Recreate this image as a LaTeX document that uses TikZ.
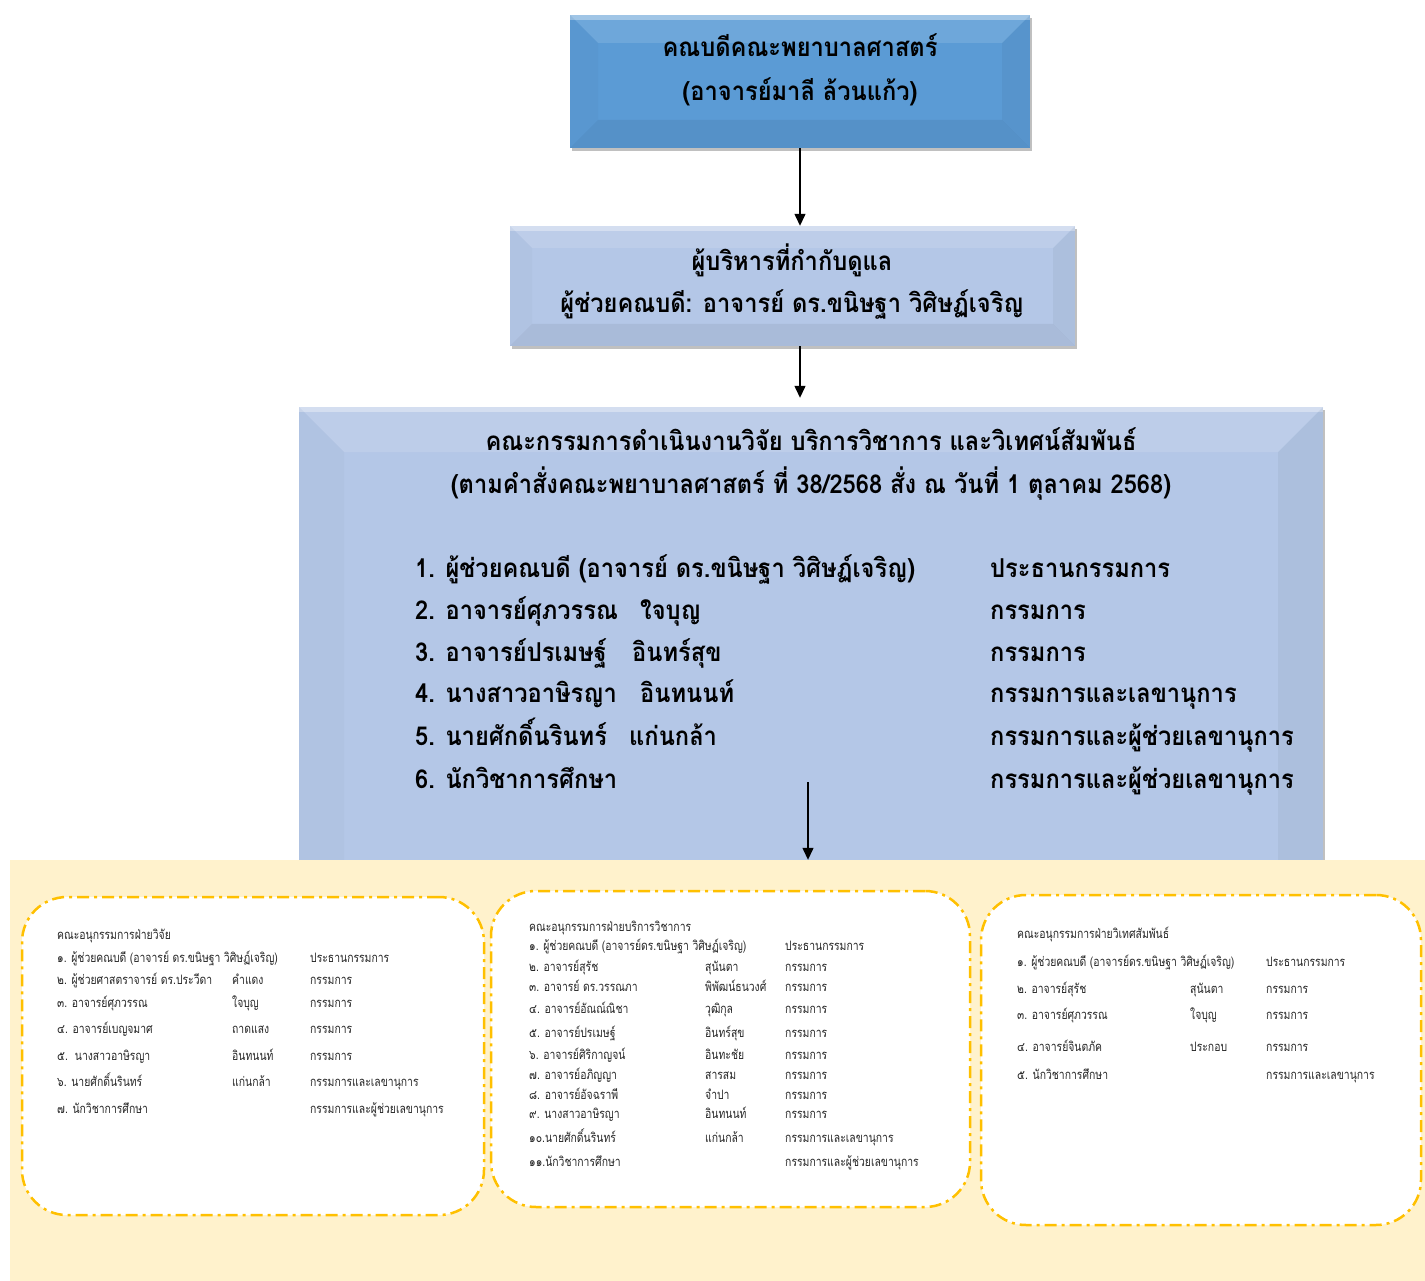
\documentclass[tikz,border=0pt]{standalone}
\usepackage{fontspec}
\newfontfamily\thai[Script=Thai,FakeStretch=0.91]{Loma}
\newfontfamily\thais[Script=Thai,FakeStretch=0.8]{Loma}
\usetikzlibrary{shadows,arrows.meta}
\definecolor{topblue}{HTML}{5B9BD5}
\definecolor{lightblue}{HTML}{B4C7E7}
\definecolor{bgyellow}{HTML}{FFF2CC}
\definecolor{dashgold}{HTML}{FFC000}
\tikzset{
  bevelbox/.style={draw=none, inner sep=0pt,
    drop shadow={shadow xshift=2pt, shadow yshift=-3pt, opacity=0.35, fill=black!70},
    path picture={
      \fill[white,opacity=0.12] (path picture bounding box.north west) -- (path picture bounding box.north east)
        -- ([shift={(-#1 pt,-#1 pt)}]path picture bounding box.north east) -- ([shift={(#1 pt,-#1 pt)}]path picture bounding box.north west) -- cycle;
      \fill[white,opacity=0.35] (path picture bounding box.north west) rectangle ([shift={(0pt,-5pt)}]path picture bounding box.north east);
      \fill[black,opacity=0.02] (path picture bounding box.north west) -- ([shift={(#1 pt,-#1 pt)}]path picture bounding box.north west)
        -- ([shift={(#1 pt,#1 pt)}]path picture bounding box.south west) -- (path picture bounding box.south west) -- cycle;
      \fill[black,opacity=0.04] (path picture bounding box.north east) -- ([shift={(-#1 pt,-#1 pt)}]path picture bounding box.north east)
        -- ([shift={(-#1 pt,#1 pt)}]path picture bounding box.south east) -- (path picture bounding box.south east) -- cycle;
      \fill[black,opacity=0.06] (path picture bounding box.south west) -- ([shift={(#1 pt,#1 pt)}]path picture bounding box.south west)
        -- ([shift={(-#1 pt,#1 pt)}]path picture bounding box.south east) -- (path picture bounding box.south east) -- cycle;
    }},
  bigtxt/.style={font=\thai\bfseries\fontsize{26}{30}\selectfont, inner sep=0pt, anchor=base},
  listtxt/.style={font=\thai\bfseries\fontsize{26}{30}\selectfont, inner sep=0pt, anchor=base west},
  stxt/.style={font=\thais\fontsize{13}{15}\selectfont, text=black!85, inner sep=0pt, anchor=base west},
  subbox/.style={draw=dashgold, fill=white, line width=2.5pt, rounded corners=45pt,
    dash pattern=on 12pt off 5pt on 3pt off 5pt, inner sep=0pt},
  arr/.style={line width=1.3pt, -{Triangle[length=12pt,width=11pt]}}
}
\begin{document}
\begin{tikzpicture}[x=1pt,y=-1pt]
\useasboundingbox (0,0) rectangle (1425,1281);
\fill[white] (0,0) rectangle (1425,1281);

% boxes
\node[bevelbox=28, fill=topblue, minimum width=460pt, minimum height=133pt] (dean) at (800,81.5) {};
\node[bevelbox=22, fill=lightblue, minimum width=565pt, minimum height=120pt] (exec) at (792.5,286) {};
\node[bevelbox=45, fill=lightblue, minimum width=1024pt, minimum height=503pt] (comm) at (811,658.5) {};

% top box text
\node[bigtxt] (deanA) at (800,57) {คณบดีคณะพยาบาลศาสตร์};
\node[bigtxt] (deanB) at (800,101) {(อาจารย์มาลี ล้วนแก้ว)};

% box 2 text
\node[bigtxt] (execA) at (792,271) {ผู้บริหารที่กำกับดูแล};
\node[bigtxt] (execB) at (792,313) {ผู้ช่วยคณบดี: อาจารย์ ดร.ขนิษฐา วิศิษฏ์เจริญ};

% box 3 text
\node[bigtxt] (commA) at (811,450) {คณะกรรมการดำเนินงานวิจัย บริการวิชาการ และวิเทศน์สัมพันธ์};
\node[bigtxt] (commB) at (811,493) {(ตามคำสั่งคณะพยาบาลศาสตร์ ที่ 38/2568 สั่ง ณ วันที่ 1 ตุลาคม 2568)};

\node[listtxt] (m1a) at (415,577) {1. ผู้ช่วยคณบดี (อาจารย์ ดร.ขนิษฐา วิศิษฏ์เจริญ)};
\node[listtxt] (m1c) at (990,577) {ประธานกรรมการ};
\node[listtxt] (m2a) at (415,619) {2. อาจารย์ศุภวรรณ};
\node[listtxt] (m2b) at (640,619) {ใจบุญ};
\node[listtxt] (m2c) at (990,619) {กรรมการ};
\node[listtxt] (m3a) at (415,661) {3. อาจารย์ปรเมษฐ์};
\node[listtxt] (m3b) at (632,661) {อินทร์สุข};
\node[listtxt] (m3c) at (990,661) {กรรมการ};
\node[listtxt] (m4a) at (415,702) {4. นางสาวอาษิรญา};
\node[listtxt] (m4b) at (640,702) {อินทนนท์};
\node[listtxt] (m4c) at (990,702) {กรรมการและเลขานุการ};
\node[listtxt] (m5a) at (415,745) {5. นายศักดิ์นรินทร์};
\node[listtxt] (m5b) at (629,745) {แก่นกล้า};
\node[listtxt] (m5c) at (990,745) {กรรมการและผู้ช่วยเลขานุการ};
\node[listtxt] (m6a) at (415,788) {6. นักวิชาการศึกษา};
\node[listtxt] (m6c) at (990,788) {กรรมการและผู้ช่วยเลขานุการ};

\coordinate (a3) at (808,782);

% yellow background
\node[fill=bgyellow, draw=none, inner sep=0pt, minimum width=1415pt, minimum height=421pt] (yellowbg) at (717.5,1070.5) {};

% connectors
\draw[arr] (dean.south) -- (dean.south |- exec.north);
\draw[arr, shorten >=9pt] (exec.south -| dean.south) -- (dean.south |- comm.north);
\draw[arr] (a3) -- (a3 |- yellowbg.north);

% sub-committee boxes
\node[subbox, minimum width=462pt, minimum height=318pt] (research) at (253,1056) {};
\node[subbox, minimum width=479pt, minimum height=316pt] (service) at (730.5,1049) {};
\node[subbox, minimum width=440pt, minimum height=330pt] (intl) at (1201,1060) {};

% left box
\node[stxt] (r0) at (57,939) {คณะอนุกรรมการฝ่ายวิจัย};
\node[stxt] (r1a) at (57,962) {๑. ผู้ช่วยคณบดี (อาจารย์ ดร.ขนิษฐา วิศิษฏ์เจริญ)};
\node[stxt] (r1c) at (310,962) {ประธานกรรมการ};
\node[stxt] (r2a) at (57,984) {๒. ผู้ช่วยศาสตราจารย์ ดร.ประวีดา};
\node[stxt] (r2b) at (232,984) {คำแดง};
\node[stxt] (r2c) at (310,984) {กรรมการ};
\node[stxt] (r3a) at (57,1007) {๓. อาจารย์ศุภวรรณ};
\node[stxt] (r3b) at (232,1007) {ใจบุญ};
\node[stxt] (r3c) at (310,1007) {กรรมการ};
\node[stxt] (r4a) at (57,1033) {๔. อาจารย์เบญจมาศ};
\node[stxt] (r4b) at (232,1033) {ถาดแสง};
\node[stxt] (r4c) at (310,1033) {กรรมการ};
\node[stxt] (r5a) at (57,1060) {๕.\ \ นางสาวอาษิรญา};
\node[stxt] (r5b) at (232,1060) {อินทนนท์};
\node[stxt] (r5c) at (310,1060) {กรรมการ};
\node[stxt] (r6a) at (57,1086) {๖. นายศักดิ์นรินทร์};
\node[stxt] (r6b) at (232,1086) {แก่นกล้า};
\node[stxt] (r6c) at (310,1086) {กรรมการและเลขานุการ};
\node[stxt] (r7a) at (57,1113) {๗. นักวิชาการศึกษา};
\node[stxt] (r7c) at (310,1113) {กรรมการและผู้ช่วยเลขานุการ};

% middle box
\node[stxt] (s0) at (529,931) {คณะอนุกรรมการฝ่ายบริการวิชาการ};
\node[stxt] (s1a) at (529,950) {๑. ผู้ช่วยคณบดี (อาจารย์ดร.ขนิษฐา วิศิษฏ์เจริญ)};
\node[stxt] (s1c) at (785,950) {ประธานกรรมการ};
\node[stxt] (s2a) at (529,971) {๒. อาจารย์สุรัช};
\node[stxt] (s2b) at (705,971) {สุนันตา};
\node[stxt] (s2c) at (785,971) {กรรมการ};
\node[stxt] (s3a) at (529,991) {๓. อาจารย์ ดร.วรรณภา};
\node[stxt] (s3b) at (705,991) {พิพัฒน์ธนวงศ์};
\node[stxt] (s3c) at (785,991) {กรรมการ};
\node[stxt] (s4a) at (529,1013) {๔. อาจารย์อัณณ์ณิชา};
\node[stxt] (s4b) at (705,1013) {วุฒิกุล};
\node[stxt] (s4c) at (785,1013) {กรรมการ};
\node[stxt] (s5a) at (529,1037) {๕. อาจารย์ปรเมษฐ์};
\node[stxt] (s5b) at (705,1037) {อินทร์สุข};
\node[stxt] (s5c) at (785,1037) {กรรมการ};
\node[stxt] (s6a) at (529,1059) {๖. อาจารย์ศิริกาญจน์};
\node[stxt] (s6b) at (705,1059) {อินทะชัย};
\node[stxt] (s6c) at (785,1059) {กรรมการ};
\node[stxt] (s7a) at (529,1079) {๗. อาจารย์อภิญญา};
\node[stxt] (s7b) at (705,1079) {สารสม};
\node[stxt] (s7c) at (785,1079) {กรรมการ};
\node[stxt] (s8a) at (529,1099) {๘. อาจารย์อัจฉราพี};
\node[stxt] (s8b) at (705,1099) {จำปา};
\node[stxt] (s8c) at (785,1099) {กรรมการ};
\node[stxt] (s9a) at (529,1118) {๙. นางสาวอาษิรญา};
\node[stxt] (s9b) at (705,1118) {อินทนนท์};
\node[stxt] (s9c) at (785,1118) {กรรมการ};
\node[stxt] (s10a) at (529,1142) {๑๐.นายศักดิ์นรินทร์};
\node[stxt] (s10b) at (705,1142) {แก่นกล้า};
\node[stxt] (s10c) at (785,1142) {กรรมการและเลขานุการ};
\node[stxt] (s11a) at (529,1166) {๑๑.นักวิชาการศึกษา};
\node[stxt] (s11c) at (785,1166) {กรรมการและผู้ช่วยเลขานุการ};

% right box
\node[stxt] (t0) at (1017,938) {คณะอนุกรรมการฝ่ายวิเทศสัมพันธ์};
\node[stxt] (t1a) at (1017,966) {๑. ผู้ช่วยคณบดี (อาจารย์ดร.ขนิษฐา วิศิษฏ์เจริญ)};
\node[stxt] (t1c) at (1266,966) {ประธานกรรมการ};
\node[stxt] (t2a) at (1017,993) {๒. อาจารย์สุรัช};
\node[stxt] (t2b) at (1190,993) {สุนันตา};
\node[stxt] (t2c) at (1266,993) {กรรมการ};
\node[stxt] (t3a) at (1017,1019) {๓. อาจารย์ศุภวรรณ};
\node[stxt] (t3b) at (1190,1019) {ใจบุญ};
\node[stxt] (t3c) at (1266,1019) {กรรมการ};
\node[stxt] (t4a) at (1017,1051) {๔. อาจารย์จินตภัค};
\node[stxt] (t4b) at (1190,1051) {ประกอบ};
\node[stxt] (t4c) at (1266,1051) {กรรมการ};
\node[stxt] (t5a) at (1017,1079) {๕. นักวิชาการศึกษา};
\node[stxt] (t5c) at (1266,1079) {กรรมการและเลขานุการ};
\end{tikzpicture}
\end{document}
